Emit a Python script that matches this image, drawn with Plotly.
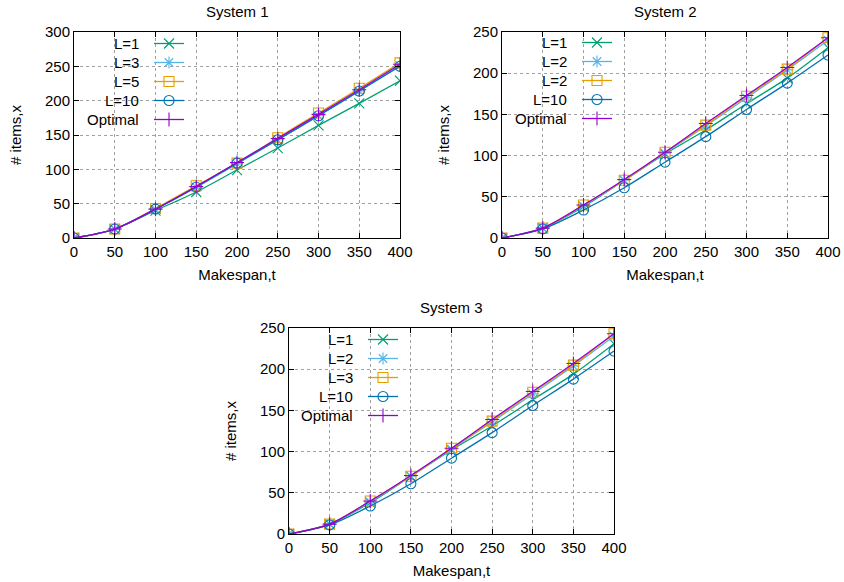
import plotly.graph_objects as go

# ---------------- data ----------------
t = [0, 50, 100, 150, 200, 250, 300, 350, 400]

s1_labels = ["L=1", "L=3", "L=5", "L=10", "Optimal"]
s1_L1 = [0, 13, 40, 67, 99, 131, 164, 196, 229]
s1_L3 = [0, 13, 42, 74, 108, 143, 178, 214, 251]
s1_L5 = [0, 13, 43, 76, 109, 146, 182, 218, 255]
s1_L10 = [0, 13, 42, 74, 109, 143, 178, 214, 250]
s1_opt = [0, 13, 42, 75, 110, 145, 180, 216, 253]

s2_labels = ["L=1", "L=2", "L=2", "L=10", "Optimal"]
s2_L1 = [0, 12, 38, 70, 102, 131, 163, 194, 231]
s2_L2a = [0, 12, 39, 70, 103, 136, 170, 204, 240]
s2_L2b = [0, 12, 40, 70, 104, 137, 172, 205, 243]
s2_L10 = [0, 11, 34, 61, 92, 123, 156, 188, 222]
s2_opt = [0, 12, 40, 71, 104, 139, 173, 207, 243]

s3_labels = ["L=1", "L=2", "L=3", "L=10", "Optimal"]
s3_L1 = [0, 12, 38, 70, 102, 131, 163, 194, 231]
s3_L2 = [0, 12, 39, 70, 103, 136, 170, 204, 240]
s3_L3 = [0, 12, 40, 70, 104, 137, 172, 205, 243]
s3_L10 = [0, 11, 34, 61, 92, 123, 156, 188, 222]
s3_opt = [0, 12, 40, 71, 104, 139, 173, 207, 243]

titles = ["System 1", "System 2", "System 3"]
y_max = [300, 250, 250]
x_ticks = [0, 50, 100, 150, 200, 250, 300, 350, 400]

# ---------------- styles ----------------
colors = ["#009e73", "#56b4e9", "#e69f00", "#0072b2", "#9400d3"]
symbols = ["x-thin-open", "asterisk-open", "square-open", "circle-open", "cross-thin-open"]
FONT = "Liberation Sans, Arial, Helvetica, sans-serif"
W, H = 844, 582

def fx(p):
    return p / W

def fy(p):
    return 1 - p / H

panels = [
    dict(series=[s1_L1, s1_L3, s1_L5, s1_L10, s1_opt], labels=s1_labels,
         box=(74, 400, 32, 238), leg_x=149, leg_top=29, txt_x=141),
    dict(series=[s2_L1, s2_L2a, s2_L2b, s2_L10, s2_opt], labels=s2_labels,
         box=(502, 828, 32, 238), leg_x=577, leg_top=28, txt_x=569),
    dict(series=[s3_L1, s3_L2, s3_L3, s3_L10, s3_opt], labels=s3_labels,
         box=(289, 614, 328, 534), leg_x=363, leg_top=325, txt_x=355),
]

fig = go.Figure()
annotations = []
layout = {}

for i, p in enumerate(panels):
    n = i + 1
    xa = "x" if n == 1 else f"x{n}"
    ya = "y" if n == 1 else f"y{n}"
    leg = "legend" if n == 1 else f"legend{n}"
    for j, (vals, lab) in enumerate(zip(p["series"], p["labels"])):
        fig.add_trace(go.Scatter(
            x=t, y=vals, mode="lines+markers", name=" ",
            line=dict(color=colors[j], width=1.3, shape="spline", smoothing=0.8),
            marker=dict(symbol=symbols[j], size=10, color=colors[j],
                        line=dict(width=1.1, color=colors[j])),
            xaxis=xa, yaxis=ya, legend=leg, hovertext=lab,
        ))
    l, r, tp, b = p["box"]
    axis_common = dict(
        showline=True, linecolor="black", linewidth=1, mirror="allticks",
        ticks="inside", ticklen=5, tickcolor="black", tickwidth=1,
        showgrid=True, gridcolor="#a0a0a0", griddash="dot", gridwidth=1,
        zeroline=False, tickfont=dict(family=FONT, size=15, color="black"),
        automargin=False,
    )
    layout[f"xaxis{'' if n == 1 else n}"] = dict(
        axis_common, domain=[fx(l), fx(r)], range=[0, 400], tickvals=x_ticks,
        anchor=ya,
        title=dict(text="Makespan,t", font=dict(family=FONT, size=15, color="black"), standoff=10),
    )
    layout[f"yaxis{'' if n == 1 else n}"] = dict(
        axis_common, domain=[fy(b), fy(tp)], range=[0, y_max[i]], dtick=50,
        anchor=xa,
        title=dict(text="# items,x", font=dict(family=FONT, size=15, color="black"), standoff=19),
    )
    layout[leg] = dict(
        x=fx(p["leg_x"]), y=fy(p["leg_top"]), xanchor="left", yanchor="top",
        bgcolor="rgba(0,0,0,0)", borderwidth=0,
        font=dict(family=FONT, size=10), itemwidth=30,
    )
    # subplot title
    annotations.append(dict(
        text=titles[i], x=fx((l + r) / 2), y=fy(tp - 21), xref="paper", yref="paper",
        showarrow=False, xanchor="center", yanchor="middle",
        font=dict(family=FONT, size=15, color="black"),
    ))
    # legend labels (text left of the key, gnuplot style)
    for j, lab in enumerate(p["labels"]):
        annotations.append(dict(
            text=lab, x=fx(p["txt_x"]), y=fy(p["leg_top"] + 14.5 + 19 * j),
            xref="paper", yref="paper", showarrow=False,
            xanchor="right", yanchor="middle",
            font=dict(family=FONT, size=15, color="black"),
        ))

fig.update_layout(
    width=W, height=H, autosize=False,
    margin=dict(l=0, r=0, t=0, b=0, autoexpand=False),
    paper_bgcolor="white", plot_bgcolor="white",
    annotations=annotations, showlegend=True,
    font=dict(family=FONT, size=15, color="black"),
    **layout,
)

fig.write_html(
    "out.html",
    config={"displayModeBar": False},
    post_script="document.body.style.margin='0px';document.body.style.overflow='hidden';",
)
